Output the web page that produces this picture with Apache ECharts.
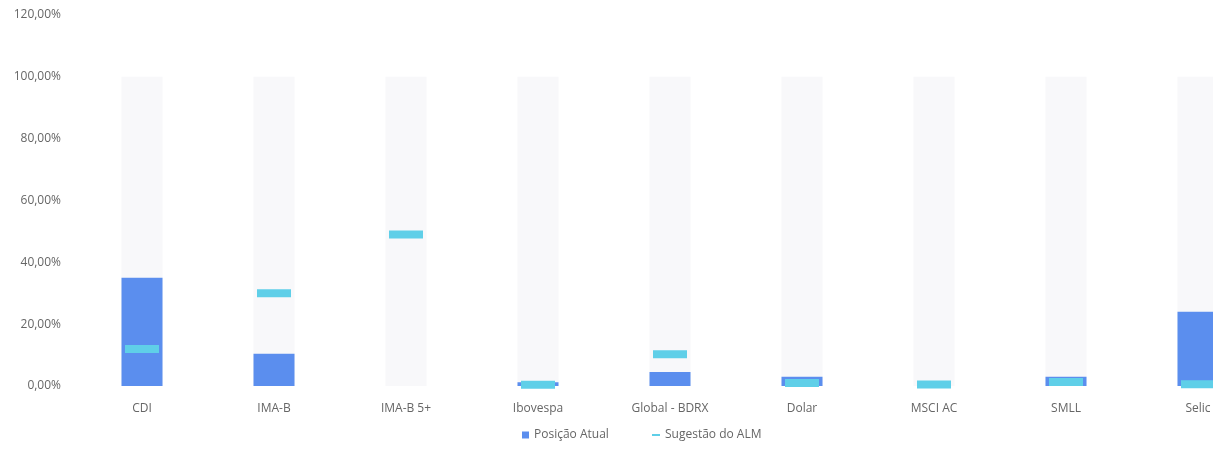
<!DOCTYPE html>
<html>
<head>
    <meta charset="utf-8">
    <title>ALM</title>
    <script src="https://cdn.jsdelivr.net/npm/echarts@6/dist/echarts.min.js"></script>
    <style>
        html, body { margin: 0; padding: 0; background: #fff; overflow: hidden; }
    </style>
</head>
<body>
<!-- o gráfico original está cortado à direita (Selic), por isso a div é mais larga que a janela -->
<div id="main" style="width: 1264px;height:449px;"></div>
<script>
// dados (em %)
var categorias = ['CDI', 'IMA-B', 'IMA-B 5+', 'Ibovespa', 'Global - BDRX', 'Dolar', 'MSCI AC', 'SMLL', 'Selic'];
var posicaoAtual = [35, 10.4, 0, 1.2, 4.5, 3, 0, 3, 24];
var sugestaoALM = [12, 30, 49, 0.4, 10.3, 1, 0.5, 1.3, 0.6];
var limite = [100, 100, 100, 100, 100, 100, 100, 100, 100];
var yTicks = [0, 20, 40, 60, 80, 100, 120];

function pct(v) {
    return v.toFixed(2).replace('.', ',') + '%';
}

var option = {
    animation: false,
    textStyle: { fontFamily: 'Open Sans' },
    grid: { left: 76, right: 0, top: 15, height: 371 },
    legend: [
        {
            data: [{ name: 'Posição Atual', icon: 'rect' }],
            left: 517, top: 424,
            itemWidth: 7, itemHeight: 7, itemGap: 4,
            textStyle: { color: '#666', fontSize: 12 }
        },
        {
            data: [{ name: 'Sugestão do ALM', icon: 'rect' }],
            left: 647, top: 424,
            itemWidth: 8, itemHeight: 2,
            textStyle: { color: '#666', fontSize: 12 }
        }
    ],
    xAxis: {
        type: 'category',
        data: categorias,
        axisLine: { show: false },
        axisTick: { show: false },
        axisLabel: { color: '#666', fontSize: 12, margin: 17 }
    },
    yAxis: {
        type: 'value',
        min: yTicks[0],
        max: yTicks[yTicks.length - 1],
        interval: 20,
        axisLine: { show: false },
        axisTick: { show: false },
        splitLine: { show: false },
        axisLabel: {
            color: '#666', fontSize: 12, margin: 15,
            formatter: function (v) { return pct(v); }
        }
    },
    series: [
        {
            name: 'Limite',
            type: 'bar',
            data: limite,
            barWidth: 41,
            barGap: '-100%',
            silent: true,
            itemStyle: { color: '#f8f8fa' }
        },
        {
            name: 'Posição Atual',
            type: 'bar',
            data: posicaoAtual,
            barWidth: 41,
            barGap: '-100%',
            itemStyle: { color: '#5b8eee' }
        },
        {
            name: 'Sugestão do ALM',
            type: 'line',
            data: sugestaoALM,
            symbol: 'rect',
            symbolSize: [34, 8],
            lineStyle: { width: 0, opacity: 0 },
            itemStyle: { color: '#5fcfe8' },
            z: 5
        }
    ]
};

var myChart = echarts.init(document.getElementById('main'));
myChart.setOption(option);
</script>
</body>
</html>
